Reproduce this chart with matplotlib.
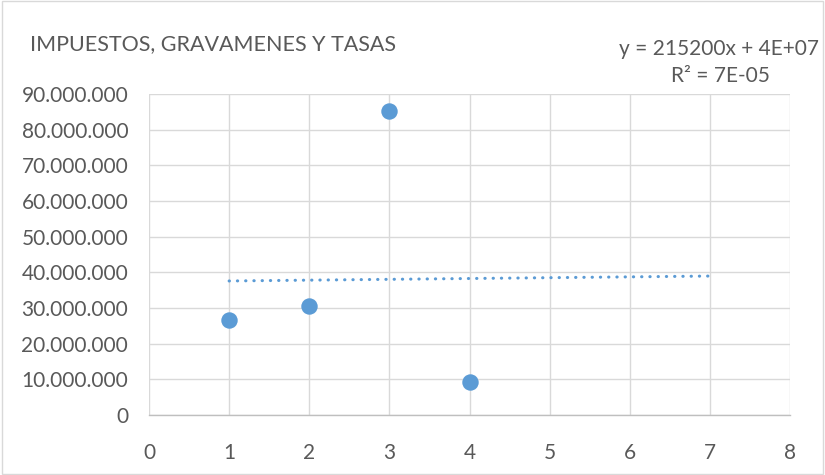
import matplotlib
matplotlib.use("Agg")
import matplotlib.pyplot as plt
import numpy as np
from matplotlib.patches import Rectangle
from matplotlib.ticker import FuncFormatter

plt.rcParams['font.family'] = ['Lato', 'DejaVu Sans']

title = "IMPUESTOS, GRAVAMENES Y TASAS"
x_vals = [1, 2, 3, 4]
y_vals = [26_700_000, 30_600_000, 85_100_000, 9_300_000]
trend_x = [1, 7]
equation = "y = 215200x + 4E+07"
r2_text = "R² = 7E-05"
x_ticks = list(range(0, 9))
y_ticks = list(range(0, 90_000_001, 10_000_000))

blue = "#5B9BD5"
txt = "#595959"
grid = "#D9D9D9"

fig = plt.figure(figsize=(8.25, 4.75), dpi=100)
fig.patches.append(Rectangle((0.002, 0.002), 0.996, 0.996, transform=fig.transFigure,
                             fill=False, edgecolor="#D9D9D9", linewidth=1))
ax = fig.add_axes([0.1806, 0.1263, 0.777, 0.6758])

ax.set_xlim(0, 8)
ax.set_ylim(0, 90_000_000)
ax.set_xticks(x_ticks)
ax.set_yticks(y_ticks)
ax.grid(True, color=grid, linewidth=1)
ax.set_axisbelow(True)
for s in ["top", "right", "left"]:
    ax.spines[s].set_visible(False)
ax.spines["bottom"].set_color("#BFBFBF")
ax.spines["bottom"].set_linewidth(1)
ax.tick_params(length=0, labelsize=15, colors=txt)
ax.tick_params(axis='y', pad=15)
ax.tick_params(axis='x', pad=20)
ax.yaxis.set_major_formatter(FuncFormatter(lambda v, p: f"{int(v):,}".replace(",", ".")))

# trend line via least squares
coef = np.polyfit(x_vals, y_vals, 1)
tx = np.array(trend_x, dtype=float)
ax.plot(tx, np.polyval(coef, tx), color=blue, linewidth=2.2, linestyle=(0, (0.1, 2.6)),
        dash_capstyle='round', zorder=2)

ax.scatter(x_vals, y_vals, s=140, color=blue, zorder=3, linewidths=0)

fig.text(30 / 825, 1 - 44 / 475, title, fontsize=15.5, color=txt, va="center", ha="left")
fig.text(719 / 825, 1 - 49 / 475, equation, fontsize=15, color=txt, va="center", ha="center")
fig.text(720 / 825, 1 - 76 / 475, r2_text, fontsize=15, color=txt, va="center", ha="center")

fig.savefig("out.png", dpi=100)
